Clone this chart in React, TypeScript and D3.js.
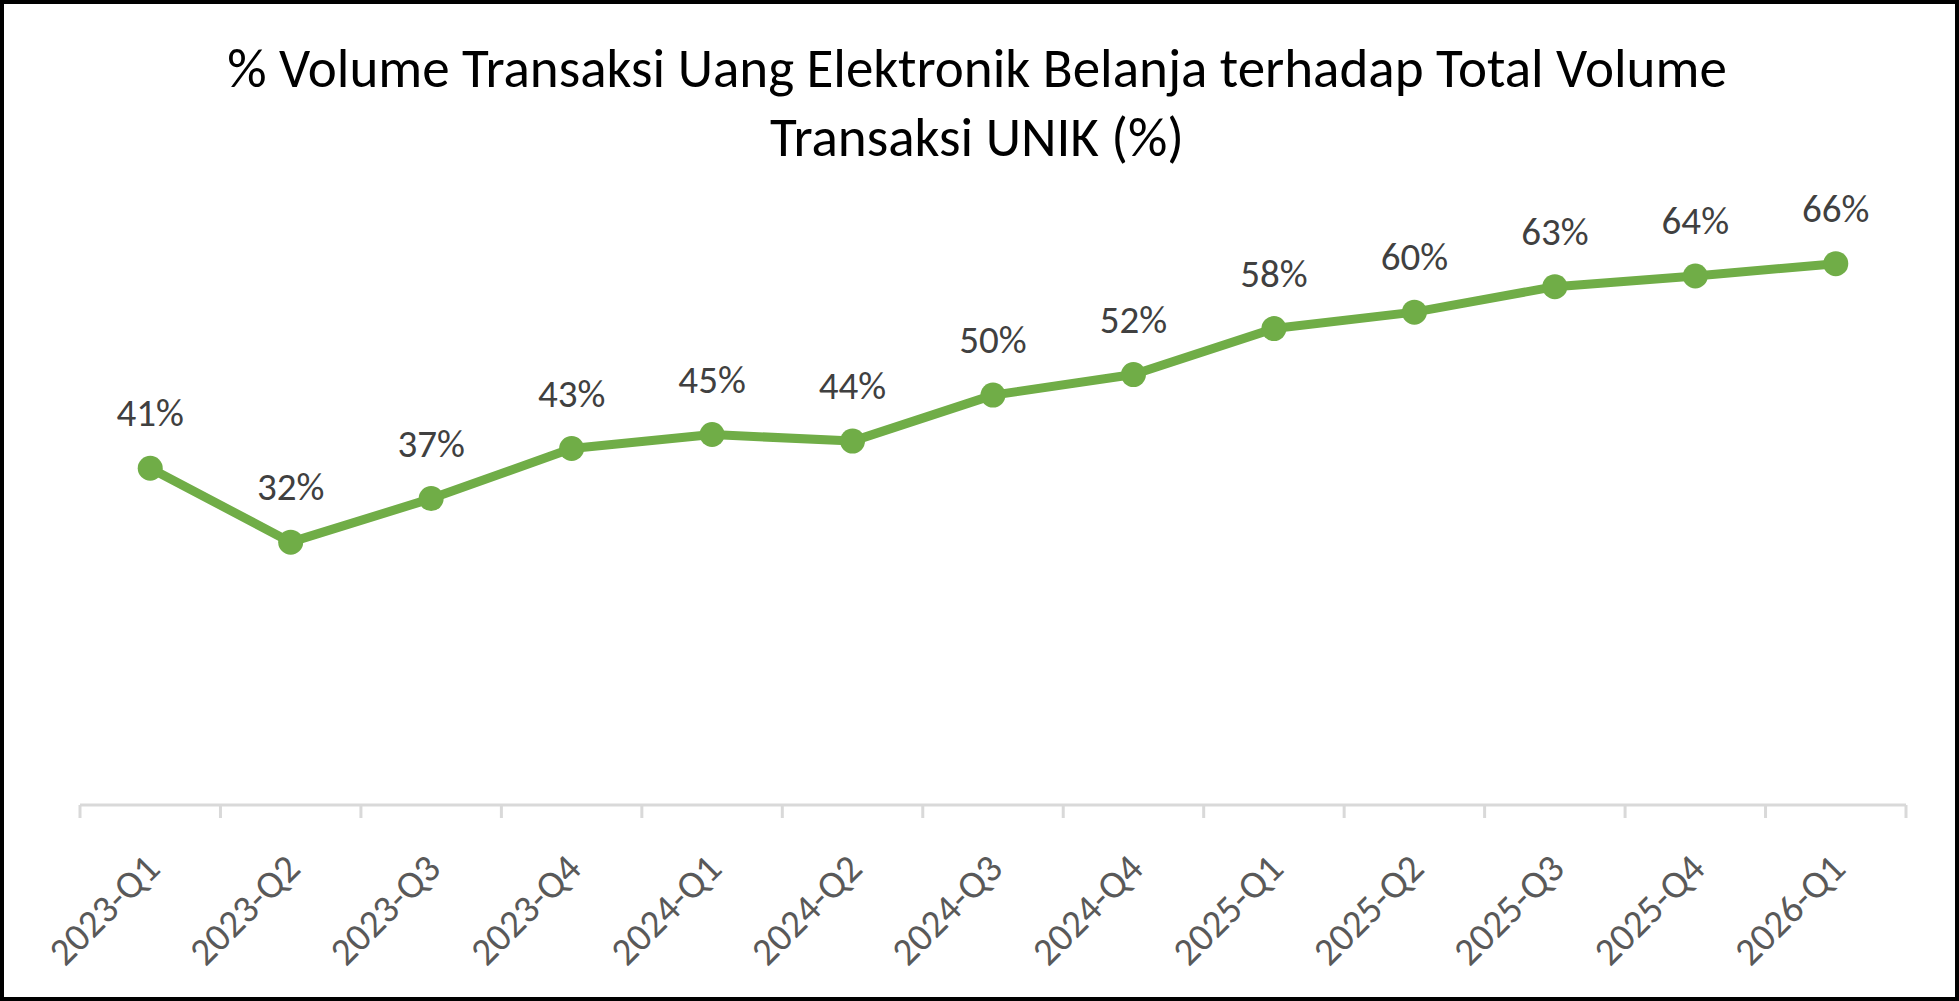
import { useEffect } from "react";
import * as d3 from "d3";

const categories = [
  "2023-Q1", "2023-Q2", "2023-Q3", "2023-Q4",
  "2024-Q1", "2024-Q2", "2024-Q3", "2024-Q4",
  "2025-Q1", "2025-Q2", "2025-Q3", "2025-Q4",
  "2026-Q1",
];
const shareValues = [
  0.41, 0.32, 0.373, 0.434,
  0.451, 0.443, 0.499, 0.524,
  0.58, 0.6, 0.631, 0.644,
  0.659,
];
const titleLines = [
  "% Volume Transaksi Uang Elektronik Belanja terhadap Total Volume",
  "Transaksi UNIK (%)",
];

const W = 1959;
const H = 1001;
const FONT = "Carlito, Calibri, 'Open Sans', sans-serif";
const GREEN = "#70ad47";

export default function App() {
  useEffect(() => {
    document.body.style.margin = "0";
  }, []);

  const x = d3.scaleBand().domain(categories).range([80, 1906]).padding(0);
  const y = d3.scaleLinear().domain([0, 0.7]).range([805, 230]);
  const cx = (c: string) => x(c)! + x.bandwidth() / 2;

  const line = d3
    .line<number>()
    .x((d, i) => cx(categories[i]))
    .y((d) => y(d));

  const ticks = categories.map((c) => x(c)!).concat([x.range()[1]]);

  return (
    <svg width={W} height={H} style={{ display: "block", background: "#fff" }}>
      <rect x={2} y={2} width={W - 4} height={H - 4} fill="#fff" stroke="#000" strokeWidth={4} />

      {/* title */}
      <g fontFamily={FONT} fill="#000" textAnchor="middle" fontSize={55}>
        {titleLines.map((t, i) => (
          <text key={i} x={977} y={87 + i * 69}>{t}</text>
        ))}
      </g>

      {/* category axis */}
      <g stroke="#d9d9d9" strokeWidth={3} fill="none">
        <line x1={x.range()[0]} x2={x.range()[1]} y1={y(0)} y2={y(0)} />
        {ticks.map((t, i) => (
          <line key={i} x1={t} x2={t} y1={y(0)} y2={y(0) + 13} />
        ))}
      </g>
      <g fontFamily={FONT} fill="#595959" fontSize={39} textAnchor="end">
        {categories.map((c) => (
          <text key={c} transform={`translate(${cx(c) + 2},${y(0) + 56}) rotate(-45)`} dy="0.35em">
            {c}
          </text>
        ))}
      </g>

      {/* series */}
      <path d={line(shareValues)!} fill="none" stroke={GREEN} strokeWidth={9} strokeLinejoin="round" />
      {shareValues.map((v, i) => (
        <circle key={i} cx={cx(categories[i])} cy={y(v)} r={12.5} fill={GREEN} />
      ))}

      {/* data labels */}
      <g fontFamily={FONT} fill="#404040" fontSize={39} textAnchor="middle">
        {shareValues.map((v, i) => (
          <text key={i} x={cx(categories[i])} y={y(v) - 42}>
            {d3.format(".0%")(v)}
          </text>
        ))}
      </g>
    </svg>
  );
}
